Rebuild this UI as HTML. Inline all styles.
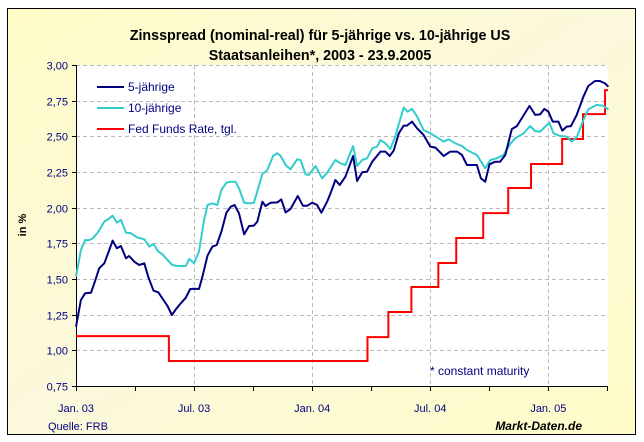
<!DOCTYPE html>
<html><head><meta charset="utf-8"><style>
body{margin:0;background:#fff;}
svg{display:block;font-family:"Liberation Sans",sans-serif;}
</style></head><body>
<svg id="chart" width="644" height="442">
<defs><linearGradient id="bg" x1="0" y1="0" x2="1" y2="1"><stop offset="0" stop-color="#fffcc8"/><stop offset="0.5" stop-color="#fbf8dc"/><stop offset="1" stop-color="#fffcc8"/></linearGradient></defs>
<rect x="7.5" y="8.5" width="628" height="426" fill="url(#bg)" stroke="#000"/>
<rect x="76" y="65" width="532" height="321" fill="#fff"/>
<text x="320" y="40" text-anchor="middle" font-weight="bold" font-size="14.3">Zinsspread (nominal-real) für 5-jährige vs. 10-jährige US</text>
<text x="320" y="60" text-anchor="middle" font-weight="bold" font-size="14.3">Staatsanleihen*, 2003 - 23.9.2005</text>
<text transform="translate(26,225) rotate(-90)" text-anchor="middle" font-size="11" font-weight="bold">in %</text>
<g id="grid"></g><g id="axes"></g><g id="series"></g>
<g>
<line x1="97" y1="87" x2="124" y2="87" stroke="#000080" stroke-width="2"/>
<text x="128" y="91" font-size="12" fill="#000080">5-jährige</text>
<line x1="97" y1="108" x2="124" y2="108" stroke="#33cccc" stroke-width="2"/>
<text x="128" y="112" font-size="12" fill="#000080">10-jährige</text>
<line x1="97" y1="129" x2="124" y2="129" stroke="#ff0000" stroke-width="2"/>
<text x="128" y="133" font-size="12" fill="#000080">Fed Funds Rate, tgl.</text>
</g>
<text x="430" y="375" font-size="12" fill="#000080">* constant maturity</text>
<text x="48" y="430" font-size="11" fill="#000080">Quelle: FRB</text>
<text x="582" y="430" text-anchor="end" font-size="12" font-weight="bold" font-style="italic">Markt-Daten.de</text>
</svg>
<script>
const yTicks=[0.75,1.00,1.25,1.50,1.75,2.00,2.25,2.50,2.75,3.00];
const xTickLabels=["Jan. 03","Jul. 03","Jan. 04","Jul. 04","Jan. 05"];
const xTickMonths=[0,6,12,18,24];
const fiveMonths=[0,0.25,0.46,0.76,0.93,1.18,1.44,1.69,1.86,2.08,2.28,2.54,2.70,2.96,3.21,3.47,3.67,3.94,4.18,4.39,4.65,4.87,5.07,5.32,5.58,5.80,6.00,6.25,6.42,6.68,6.93,7.15,7.39,7.64,7.86,8.06,8.28,8.54,8.79,9.04,9.21,9.47,9.63,9.89,10.23,10.43,10.65,10.90,11.27,11.53,11.75,12.00,12.25,12.47,12.76,12.93,13.18,13.40,13.69,14.08,14.28,14.54,14.79,15.05,15.47,15.72,15.94,16.14,16.40,16.65,16.82,17.07,17.33,17.66,18.00,18.26,18.68,19.02,19.36,19.61,19.86,20.37,20.57,20.79,21.01,21.30,21.55,21.81,22.14,22.40,22.70,23.04,23.33,23.58,23.80,24.00,24.22,24.51,24.71,24.93,25.15,25.44,25.78,26.03,26.37,26.62,26.88,27.05];
const fiveValues=[1.166,1.353,1.40,1.404,1.47,1.575,1.61,1.703,1.769,1.715,1.731,1.645,1.661,1.621,1.598,1.61,1.516,1.418,1.407,1.364,1.311,1.248,1.287,1.329,1.369,1.43,1.432,1.43,1.516,1.664,1.727,1.738,1.832,1.965,2.007,2.019,1.96,1.813,1.871,1.874,1.902,2.042,2.012,2.035,2.037,2.058,1.967,1.991,2.082,2.014,2.014,2.035,2.019,1.965,2.042,2.10,2.194,2.159,2.217,2.362,2.187,2.248,2.252,2.322,2.393,2.393,2.362,2.40,2.521,2.575,2.575,2.603,2.556,2.509,2.428,2.421,2.362,2.393,2.393,2.369,2.299,2.299,2.206,2.182,2.304,2.322,2.322,2.369,2.551,2.572,2.638,2.713,2.65,2.654,2.692,2.673,2.603,2.603,2.54,2.568,2.572,2.65,2.778,2.853,2.888,2.888,2.871,2.848];
const tenMonths=[0,0.25,0.46,0.68,0.85,1.10,1.44,1.69,1.86,2.08,2.28,2.54,2.79,3.13,3.47,3.72,3.94,4.18,4.39,4.65,4.90,5.16,5.58,5.75,6.00,6.25,6.51,6.68,6.93,7.18,7.39,7.64,7.86,8.11,8.28,8.54,8.79,9.04,9.47,9.72,10.02,10.23,10.40,10.65,10.90,11.24,11.41,11.66,11.83,12.17,12.51,12.76,13.18,13.44,13.69,14.08,14.28,14.54,14.79,15.05,15.30,15.47,15.72,15.97,16.22,16.65,16.85,17.07,17.33,17.66,18.00,18.34,18.68,18.93,19.27,19.61,19.86,20.37,20.79,21.05,21.38,21.72,22.06,22.31,22.74,23.07,23.33,23.58,24.05,24.26,24.59,24.93,25.18,25.44,25.78,26.03,26.45,26.79,27.05];
const tenValues=[1.516,1.703,1.773,1.773,1.785,1.825,1.902,1.925,1.944,1.895,1.914,1.825,1.82,1.79,1.778,1.727,1.745,1.692,1.673,1.633,1.598,1.591,1.591,1.64,1.61,1.692,1.914,2.019,2.03,2.019,2.124,2.175,2.182,2.182,2.136,2.035,2.03,2.035,2.236,2.264,2.364,2.381,2.362,2.299,2.269,2.339,2.334,2.234,2.229,2.292,2.206,2.245,2.334,2.311,2.299,2.432,2.292,2.334,2.346,2.416,2.428,2.474,2.451,2.411,2.498,2.703,2.673,2.692,2.638,2.544,2.521,2.493,2.463,2.479,2.451,2.432,2.404,2.369,2.276,2.334,2.346,2.369,2.446,2.486,2.521,2.572,2.537,2.533,2.596,2.521,2.502,2.498,2.463,2.493,2.614,2.689,2.72,2.715,2.689];
const fedStepMonths=[0,4.72,14.81,15.87,17.04,18.41,19.32,20.69,21.96,23.12,24.70,25.76,26.88];
const fedStepValues=[1.10,0.925,1.093,1.269,1.444,1.612,1.787,1.962,2.138,2.306,2.481,2.656,2.824];
const X0=76,X1=608,Y0=386,Y1=65,MMAX=27.03;
function xs(m){return X0+(X1-X0)*m/MMAX;}
function ys(v){return Y0-(Y0-Y1)*(v-0.75)/2.25;}
const NS="http://www.w3.org/2000/svg";
function mk(t,a,p){const e=document.createElementNS(NS,t);for(const k in a)e.setAttribute(k,a[k]);p.appendChild(e);return e;}
const grid=document.getElementById('grid'),axes=document.getElementById('axes'),ser=document.getElementById('series');
yTicks.forEach((v,i)=>{const y=Math.round(ys(v))+0.5;
 if(i>0){const g=mk('line',{x1:X0,x2:X1,y1:y,y2:y,stroke:'#bbb','stroke-dasharray':'4,3'},grid);
 
 }
 const t=mk('line',{x1:X0-4,x2:X0,y1:y,y2:y,stroke:'#000'},axes);
 
 
 const l=mk('text',{x:X0-8,y:y+4,'text-anchor':'end','font-size':'11',fill:'#000080'},axes);l.textContent=v.toFixed(2).replace('.',',');
 
 
});
for(let m=0;m<=27;m+=3){const x=Math.round(xs(m))+0.5;
 if(m%6==0&&m>0){const g=mk('line',{x1:x,x2:x,y1:Y1,y2:Y0,stroke:'#bbb','stroke-dasharray':'4,3'},grid);
 
 }
 const t=mk('line',{x1:x,x2:x,y1:Y0,y2:Y0+5,stroke:'#000'},axes);
 
 }
xTickLabels.forEach((s,i)=>{const l=mk('text',{x:xs(xTickMonths[i]),y:412,'text-anchor':'middle','font-size':'11',fill:'#000080'},axes);l.textContent=s;
 
 });
const ax=mk('path',{d:`M${X0+0.5},${Y1} V${Y0+0.5} H${X1}`,fill:'none',stroke:'#000'},axes);


let fd='M'+xs(0)+','+ys(fedStepValues[0]);
for(let i=1;i<fedStepMonths.length;i++){fd+=' H'+xs(fedStepMonths[i])+' V'+ys(fedStepValues[i]);}
fd+=' H'+xs(MMAX);
const fed=mk('path',{d:fd,fill:'none',stroke:'#ff0000','stroke-width':2},ser);


function line(ms,vs,c,n){const d=ms.map((m,i)=>(i?'L':'M')+xs(m).toFixed(1)+','+ys(vs[i]).toFixed(1)).join(' ');
 const p=mk('path',{d:d,fill:'none',stroke:c,'stroke-width':2,'stroke-linejoin':'round'},ser);
 
 }
line(tenMonths,tenValues,'#33cccc','ten-year-line');
line(fiveMonths,fiveValues,'#000080','five-year-line');
</script>
</body></html>
